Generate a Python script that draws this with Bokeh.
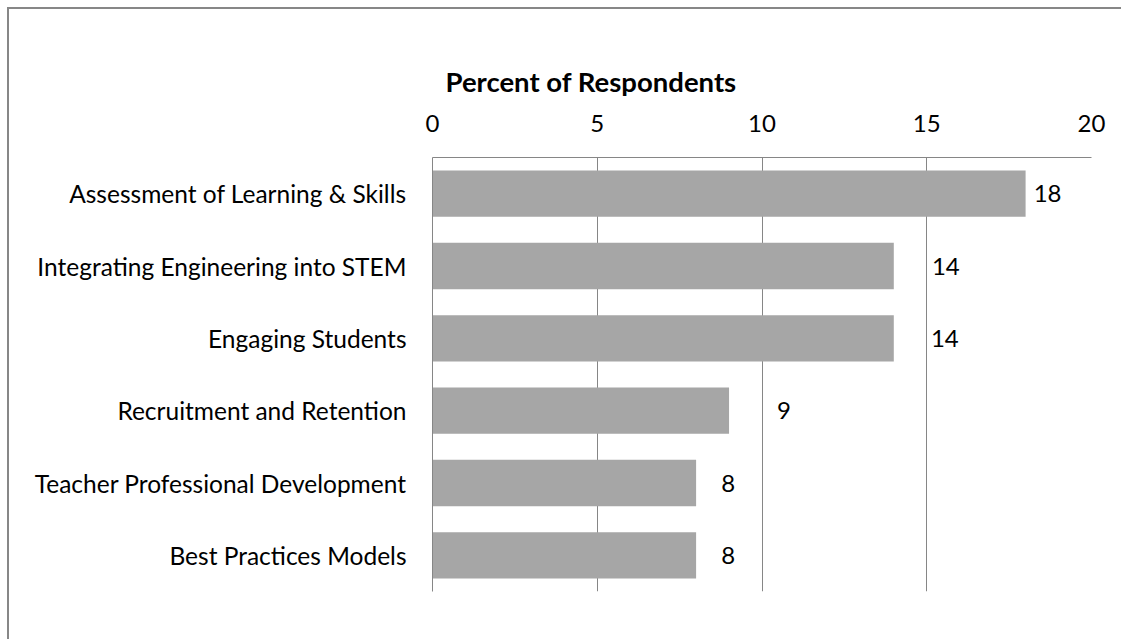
from bokeh.plotting import figure
from bokeh.models import FixedTicker, Title, ColumnDataSource
from bokeh.core.properties import value
from bokeh.embed import file_html
from bokeh.resources import INLINE

# ---- data ----
categories = [
    "Assessment of Learning & Skills",
    "Integrating Engineering into STEM",
    "Engaging Students",
    "Recruitment and Retention",
    "Teacher Professional Development",
    "Best Practices Models",
]
percents = [18, 14, 14, 9, 8, 8]
x_ticks = [0, 5, 10, 15, 20]
axis_title = "Percent of Respondents"

# ---- styles ----
FONT = "Lato"
FS = "24.5px"
GRID = "#868686"
BAR = "#A6A6A6"
label_dx = [22, 52, 51, 55, 32, 32]  # pixel offsets of value labels

src = ColumnDataSource(dict(
    cat=categories,
    val=percents,
    lbl=[str(v) for v in percents],
    dx=label_dx,
))

p = figure(
    y_range=categories[::-1],
    x_range=(0, 20),
    x_axis_location="above",
    frame_width=659, frame_height=434,
    min_border_left=423, min_border_right=30,
    min_border_top=148, min_border_bottom=48,
    output_backend="svg", toolbar_location=None,
)
p.styles = {
    "border-left": "2px solid #878787",
    "border-top": "2px solid #878787",
    "margin-left": "7px",
    "margin-top": "7px",
}
p.outline_line_color = None
p.background_fill_color = "white"
p.border_fill_color = "white"

p.hbar(y="cat", left=0, right="val", height=0.64, source=src,
       fill_color=BAR, line_color=None)

p.text(x="val", y="cat", text="lbl", x_offset="dx", source=src,
       text_align="center", text_baseline="middle",
       text_font=value(FONT), text_font_size="24px", text_color="black")

# x axis (above)
xa = p.xaxis[0]
xa.ticker = FixedTicker(ticks=x_ticks)
xa.major_tick_in = 0
xa.major_tick_out = 0
xa.minor_tick_in = 0
xa.minor_tick_out = 0
xa.axis_line_color = GRID
xa.major_label_text_font = FONT
xa.major_label_text_font_size = "24px"
xa.major_label_text_color = "black"
xa.major_label_standoff = 26

# y axis
ya = p.yaxis[0]
ya.major_tick_in = 0
ya.major_tick_out = 0
ya.axis_line_color = GRID
ya.major_label_text_font = FONT
ya.major_label_text_font_size = FS
ya.major_label_text_color = "black"
ya.major_label_standoff = 26

p.xgrid.ticker = FixedTicker(ticks=x_ticks)
p.xgrid.grid_line_color = GRID
p.ygrid.grid_line_color = None

p.add_layout(Title(text=axis_title, align="left", offset=13, standoff=27,
                   text_font=FONT, text_font_style="bold",
                   text_font_size="27.5px", text_color="black"), "above")

open("out.html", "w").write(file_html(p, INLINE))
